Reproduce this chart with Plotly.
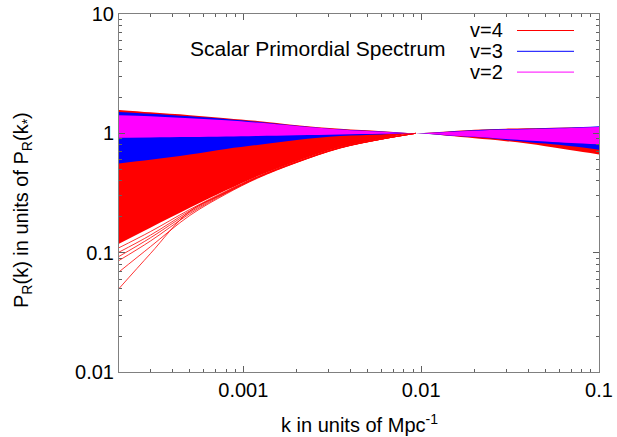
import math
import plotly.graph_objects as go

# ---------------- data ----------------
k = [0.0002, 0.0003, 0.0005, 0.0008, 0.0012, 0.002, 0.0035, 0.006, 0.0093,
     0.014, 0.02, 0.03, 0.05, 0.07, 0.1]

# envelopes of the bundles of spectra, P_R(k)/P_R(k*)
v4_top = [1.57, 1.50, 1.42, 1.34, 1.27, 1.17, 1.09, 1.04, 1.0,
          1.035, 1.07, 1.095, 1.11, 1.12, 1.13]
v4_bot = [0.119, 0.162, 0.238, 0.333, 0.436, 0.583, 0.765, 0.90, 1.0,
          0.955, 0.91, 0.86, 0.78, 0.72, 0.665]
v3_top = [1.51, 1.46, 1.39, 1.32, 1.25, 1.16, 1.08, 1.035, 1.0,
          1.03, 1.06, 1.085, 1.105, 1.12, 1.145]
v3_bot = [0.56, 0.60, 0.665, 0.74, 0.80, 0.88, 0.95, 0.98, 1.0,
          0.96, 0.93, 0.88, 0.82, 0.78, 0.73]
v2_top = [1.42, 1.39, 1.34, 1.29, 1.23, 1.15, 1.075, 1.03, 1.0,
          1.025, 1.05, 1.075, 1.095, 1.11, 1.13]
v2_bot = [0.917, 0.922, 0.93, 0.94, 0.95, 0.965, 0.98, 0.99, 1.0,
          0.966, 0.935, 0.895, 0.855, 0.83, 0.81]

# individual v=4 spectra that stray below the dense bundle
k_stray = [0.0002, 0.0003, 0.0005, 0.0008, 0.0012, 0.002, 0.0035, 0.006, 0.0093]
v4_stray = [
    [0.050, 0.098, 0.222, 0.318, 0.425, 0.572, 0.755, 0.895, 1.0],
    [0.069, 0.112, 0.205, 0.310, 0.420, 0.570, 0.752, 0.894, 1.0],
    [0.086, 0.125, 0.212, 0.315, 0.424, 0.574, 0.756, 0.895, 1.0],
    [0.093, 0.133, 0.218, 0.320, 0.428, 0.576, 0.758, 0.896, 1.0],
    [0.101, 0.140, 0.224, 0.324, 0.431, 0.578, 0.760, 0.897, 1.0],
    [0.110, 0.150, 0.230, 0.328, 0.433, 0.580, 0.762, 0.898, 1.0],
]

x_tickvals = [0.001, 0.01, 0.1]
x_ticktext = ["0.001", "0.01", "0.1"]
y_tickvals = [0.01, 0.1, 1, 10]
y_ticktext = ["0.01", "0.1", "1", "10"]
x_minor = [m * 10 ** e for e in (-4, -3, -2) for m in range(2, 10) if m * 10 ** e > 0.00021]
y_minor = [m * 10 ** e for e in (-2, -1, 0) for m in range(2, 10)]

legend_names = ["v=4", "v=3", "v=2"]
colors = {"v=4": "#ff0000", "v=3": "#0000ff", "v=2": "#ff00ff"}

# ---------------- figure ----------------
W, H = 617, 437
L, R, T, B = 119, 18, 14, 65
pw, ph = W - L - R, H - T - B


def px(xp):
    return (xp - L) / pw


def py(yp):
    return (H - B - yp) / ph


FONT = "Liberation Sans, Arial, Helvetica, sans-serif"
fig = go.Figure()


def band(top, bot, color):
    fig.add_trace(go.Scatter(x=k, y=bot, mode="lines", line=dict(width=0, shape="spline", color=color),
                             showlegend=False, hoverinfo="skip"))
    fig.add_trace(go.Scatter(x=k, y=top, mode="lines", line=dict(width=0, shape="spline", color=color),
                             fill="tonexty", fillcolor=color, showlegend=False, hoverinfo="skip"))


band(v4_top, v4_bot, colors["v=4"])
for s in v4_stray:
    fig.add_trace(go.Scatter(x=k_stray, y=s, mode="lines",
                             line=dict(width=0.8, color=colors["v=4"], shape="spline"),
                             showlegend=False, hoverinfo="skip"))
band(v3_top, v3_bot, colors["v=3"])
band(v2_top, v2_bot, colors["v=2"])

axis_common = dict(
    type="log", showgrid=False, zeroline=False, showline=True, linecolor="#808080", linewidth=1,
    mirror="ticks", ticks="inside", ticklen=6, tickwidth=1, tickcolor="#606060",
    tickfont=dict(family=FONT, size=20, color="black"), automargin=False,
)
fig.update_xaxes(range=[math.log10(0.0002), -1], tickmode="array", tickvals=x_tickvals,
                 ticktext=x_ticktext,
                 minor=dict(tickmode="array", tickvals=x_minor, ticks="inside", ticklen=3,
                            tickcolor="#606060", showgrid=False),
                 **axis_common)
fig.update_yaxes(range=[-2, 1], tickmode="array", tickvals=y_tickvals, ticktext=y_ticktext,
                 minor=dict(tickmode="array", tickvals=y_minor, ticks="inside", ticklen=3,
                            tickcolor="#606060", showgrid=False),
                 **axis_common)

annotations = [
    dict(text="k in units of Mpc<sup>-1</sup>", x=0.5, y=py(423), xref="paper", yref="paper",
         xanchor="center", yanchor="middle", showarrow=False, font=dict(family=FONT, size=20, color="black")),
    dict(text="P<sub>R</sub>(k) in units of P<sub>R</sub>(k<sub>*</sub>)", x=px(22), y=py(210),
         xref="paper", yref="paper", xanchor="center", yanchor="middle", textangle=-90,
         showarrow=False, font=dict(family=FONT, size=20, color="black")),
    dict(text="Scalar Primordial Spectrum", x=px(188), y=py(49), xref="paper", yref="paper",
         xanchor="left", yanchor="middle", showarrow=False, font=dict(family=FONT, size=21, color="black")),
]
shapes = []
for i, name in enumerate(legend_names):
    yc = 30.5 + i * 20.8
    annotations.append(dict(text=name, x=px(505), y=py(yc), xref="paper", yref="paper",
                            xanchor="right", yanchor="middle", showarrow=False,
                            font=dict(family=FONT, size=20, color="black")))
    shapes.append(dict(type="line", xref="paper", yref="paper", x0=px(517), x1=px(574),
                       y0=py(yc), y1=py(yc), line=dict(color=colors[name], width=1)))

fig.update_layout(width=W, height=H, margin=dict(l=L, r=R, t=T, b=B, pad=0, autoexpand=False),
                  plot_bgcolor="white", paper_bgcolor="white", showlegend=False,
                  annotations=annotations, shapes=shapes,
                  font=dict(family=FONT, size=20, color="black"))

# the page's default 8px body margin would shift the figure; remove it
fig.write_html("out.html", config={"displayModeBar": False},
               post_script="document.body.style.margin='0';")
